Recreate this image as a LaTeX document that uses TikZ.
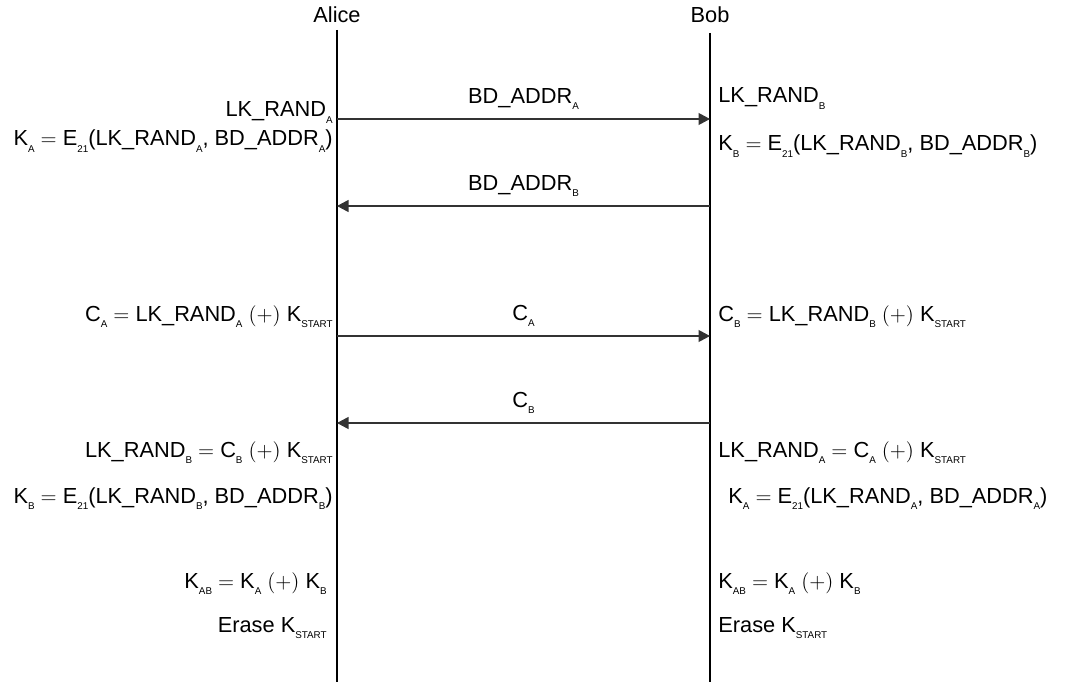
\documentclass[tikz,border=0pt]{standalone}
\usepackage{fontspec}
\setmainfont{Liberation Sans}
\usetikzlibrary{arrows.meta}
\newcommand{\sub}[1]{\raisebox{-3.8pt}{\fontsize{5.6}{6}\selectfont #1}}
\begin{document}
\begin{tikzpicture}[x=0.02cm, y=-0.02cm, every node/.style={font=\fontsize{12.4}{14}\selectfont, inner sep=0pt, text=black},
  lifeline/.style={line width=1pt},
  msg/.style={-{Triangle[length=0.23cm,width=0.24cm]}, line width=0.6pt, black!80},
  lstep/.style={anchor=base east},
  rstep/.style={anchor=base west}]
\useasboundingbox (0,0) rectangle (1067,682);
% parties
\node[anchor=base] (alice) at (337,23) {Alice};
\node[anchor=base] (bob) at (710,23) {Bob};
\coordinate (alice top) at (337,30);
\coordinate (alice bot) at (337,682);
\coordinate (bob top) at (710,33);
\coordinate (bob bot) at (710,682);
\draw[lifeline] (alice top) -- (alice bot);
\draw[lifeline] (bob top) -- (bob bot);
% message points
\coordinate (a1) at (337,119); \coordinate (b1) at (710,119);
\coordinate (a2) at (337,206); \coordinate (b2) at (710,206);
\coordinate (a3) at (337,336); \coordinate (b3) at (710,336);
\coordinate (a4) at (337,423); \coordinate (b4) at (710,423);
\draw[msg] (a1) -- (b1) node[midway,above=5pt] (m1) {BD\_ADDR\sub{A}};
\draw[msg] (b2) -- (a2) node[midway,above=5pt] (m2) {BD\_ADDR\sub{B}};
\draw[msg] (a3) -- (b3) node[midway,above=5pt] (m3) {C\sub{A}};
\draw[msg] (b4) -- (a4) node[midway,above=5pt] (m4) {C\sub{B}};
% Alice side
\node[lstep] (la1) at (333,117) {LK\_RAND\sub{A}};
\node[lstep] (la2) at (333,146) {K\sub{A} $=$ E\sub{21}(LK\_RAND\sub{A}, BD\_ADDR\sub{A})};
\node[lstep] (la3) at (333,321) {C\sub{A} $=$ LK\_RAND\sub{A} $(+)$ K\sub{START}};
\node[lstep] (la4) at (333,457) {LK\_RAND\sub{B} $=$ C\sub{B} $(+)$ K\sub{START}};
\node[lstep] (la5) at (333,503) {K\sub{B} $=$ E\sub{21}(LK\_RAND\sub{B}, BD\_ADDR\sub{B})};
\node[lstep] (la6) at (327,588) {K\sub{AB} $=$ K\sub{A} $(+)$ K\sub{B}};
\node[lstep] (la7) at (327,632) {Erase K\sub{START}};
% Bob side
\node[rstep] (rb1) at (718,103) {LK\_RAND\sub{B}};
\node[rstep] (rb2) at (718,151) {K\sub{B} $=$ E\sub{21}(LK\_RAND\sub{B}, BD\_ADDR\sub{B})};
\node[rstep] (rb3) at (718,321) {C\sub{B} $=$ LK\_RAND\sub{B} $(+)$ K\sub{START}};
\node[rstep] (rb4) at (718,457) {LK\_RAND\sub{A} $=$ C\sub{A} $(+)$ K\sub{START}};
\node[rstep] (rb5) at (728,503) {K\sub{A} $=$ E\sub{21}(LK\_RAND\sub{A}, BD\_ADDR\sub{A})};
\node[rstep] (rb6) at (718,588) {K\sub{AB} $=$ K\sub{A} $(+)$ K\sub{B}};
\node[rstep] (rb7) at (718,632) {Erase K\sub{START}};
\end{tikzpicture}
\end{document}
